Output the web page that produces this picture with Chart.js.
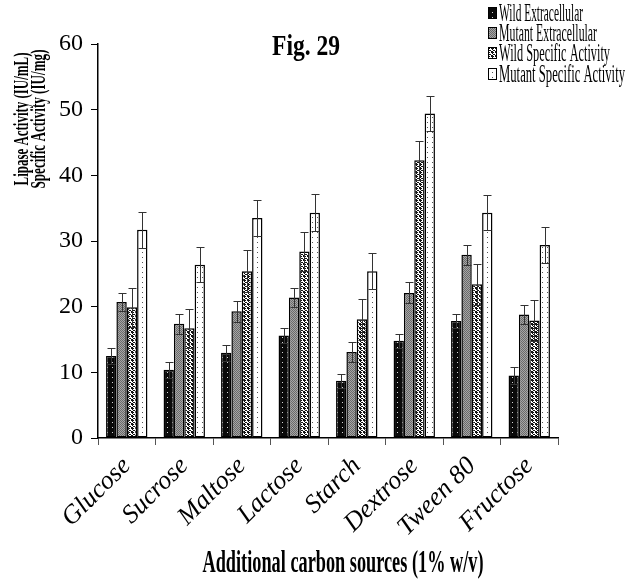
<!DOCTYPE html>
<html>
<head>
<meta charset="utf-8">
<script src="https://cdn.jsdelivr.net/npm/chart.js@4.4.0/dist/chart.umd.min.js"></script>
<style>
  html, body { margin: 0; padding: 0; background: #fff; }
  #wrap { width: 628px; height: 582px; position: relative; }
</style>
</head>
<body>
<div id="wrap"><canvas id="c" width="628" height="582"></canvas></div>
<script>
const categories = ['Glucose', 'Sucrose', 'Maltose', 'Lactose', 'Starch', 'Dextrose', 'Tween 80', 'Fructose'];
const seriesNames = ['Wild Extracellular', 'Mutant Extracellular', 'Wild Specific Activity', 'Mutant Specific Activity'];
const wildExtracellular = [12.5, 10.4, 13.0, 15.6, 8.7, 14.8, 17.8, 9.5];
const mutantExtracellular = [20.7, 17.4, 19.3, 21.4, 13.1, 22.1, 27.9, 18.8];
const wildSpecific = [19.9, 16.7, 25.4, 28.4, 18.1, 42.3, 23.4, 17.9];
const mutantSpecific = [31.7, 26.4, 33.5, 34.3, 25.4, 49.4, 34.3, 29.4];
const errWildExtracellular = [1.2, 1.2, 1.2, 1.2, 1.1, 1.1, 1.1, 1.3];
const errMutantExtracellular = [1.4, 1.5, 1.6, 1.5, 1.5, 1.6, 1.5, 1.5];
const errWildSpecific = [3.0, 3.0, 3.2, 3.0, 3.1, 3.0, 3.1, 3.1];
const errMutantSpecific = [2.7, 2.7, 2.7, 2.8, 2.7, 2.7, 2.7, 2.7];
const yTicks = [0, 10, 20, 30, 40, 50, 60];
const chartTitle = 'Fig. 29';
const xTitle = 'Additional carbon sources (1% w/v)';
const yTitleLines = ['Lipase Activity (IU/mL)', 'Specific Activity (IU/mg)'];

function makePattern(w, h, bg, fg, rows) {
  const c = document.createElement('canvas');
  c.width = w; c.height = h;
  const x = c.getContext('2d');
  x.fillStyle = bg; x.fillRect(0, 0, w, h);
  x.fillStyle = fg;
  rows.forEach((r, j) => { for (let i = 0; i < r.length; i++) if (r[i] === 'X') x.fillRect(i, j, 1, 1); });
  return x.createPattern(c, 'repeat');
}
const patWE = makePattern(5, 5, '#0a0a0a', '#d8d8d8', ['.....', '.....', '..X..', '.....', '.....']);
const patME = makePattern(2, 2, '#a6a6a6', '#6a6a6a', ['X.', '.X']);
const patWS = makePattern(4, 4, '#ffffff', '#111111', ['XX.X', 'X...', '.XX.', 'X..X']);
const patMS = makePattern(5, 5, '#ffffff', '#555555', ['.....', '.....', '..X..', '.....', '.....']);
const patterns = [patWE, patME, patWS, patMS];
const values = [wildExtracellular, mutantExtracellular, wildSpecific, mutantSpecific];
const errors = [errWildExtracellular, errMutantExtracellular, errWildSpecific, errMutantSpecific];

function fitText(ctx, text, x, y, size, weight, targetW, align) {
  ctx.save();
  ctx.font = weight + ' ' + size + 'px "Liberation Serif", serif';
  const w = ctx.measureText(text).width;
  const sx = targetW / w;
  ctx.translate(x, y);
  ctx.scale(sx, 1);
  ctx.textAlign = align || 'left';
  ctx.textBaseline = 'middle';
  ctx.fillStyle = '#000';
  ctx.fillText(text, 0, 0);
  ctx.restore();
}

const errorBarPlugin = {
  id: 'errorBars',
  afterDatasetsDraw(chart) {
    const ctx = chart.ctx;
    const yS = chart.scales.y;
    ctx.save();
    ctx.strokeStyle = '#333';
    ctx.lineWidth = 1;
    chart.data.datasets.forEach((ds, di) => {
      const meta = chart.getDatasetMeta(di);
      meta.data.forEach((bar, i) => {
        const v = ds.data[i], e = errors[di][i];
        const x = Math.round(bar.x) + 0.5;
        const yt = Math.round(yS.getPixelForValue(v + e)) + 0.5;
        const yb = Math.round(yS.getPixelForValue(v - e)) + 0.5;
        ctx.beginPath();
        ctx.moveTo(x, yt); ctx.lineTo(x, yb);
        ctx.moveTo(x - 4, yt); ctx.lineTo(x + 4, yt);
        ctx.moveTo(x - 4, yb); ctx.lineTo(x + 4, yb);
        ctx.stroke();
      });
    });
    ctx.restore();
  }
};

const textPlugin = {
  id: 'texts',
  afterDraw(chart) {
    const ctx = chart.ctx;
    fitText(ctx, chartTitle, 306, 47, 30, 'bold', 68, 'center');
    const legY = [13, 33, 53, 74];
    const legW = [84, 98, 111, 126];
    seriesNames.forEach((n, i) => {
      ctx.save();
      ctx.fillStyle = patterns[i];
      ctx.fillRect(488.5, legY[i] - 5.5, 8, 11);
      ctx.strokeStyle = '#000'; ctx.lineWidth = 1;
      ctx.strokeRect(488.5, legY[i] - 5.5, 8, 11);
      ctx.restore();
      fitText(ctx, n, 499, legY[i] + 1, 26, 'normal', legW[i], 'left');
    });
    fitText(ctx, xTitle, 343, 564, 32, 'bold', 281, 'center');
    const yPos = [22, 39];
    const yW = [133, 139];
    yTitleLines.forEach((t, i) => {
      ctx.save();
      ctx.translate(yPos[i], 119);
      ctx.rotate(-Math.PI / 2);
      fitText(ctx, t, 0, 0, 22, 'bold', yW[i], 'center');
      ctx.restore();
    });
  }
};

const chart = new Chart(document.getElementById('c'), {
  type: 'bar',
  data: {
    labels: categories,
    datasets: seriesNames.map((n, i) => ({
      label: n,
      data: values[i],
      backgroundColor: patterns[i],
      borderColor: '#000',
      borderWidth: 1.5,
      borderSkipped: false,
      barPercentage: 1.0,
      categoryPercentage: 0.72
    }))
  },
  options: {
    responsive: false,
    animation: false,
    devicePixelRatio: 1,
    layout: { padding: { left: 0, right: 70, top: 44, bottom: 0 } },
    plugins: { legend: { display: false }, tooltip: { enabled: false }, title: { display: false } },
    scales: {
      x: {
        grid: { display: true, drawOnChartArea: false, drawTicks: true, tickLength: 7, color: '#555', offset: true },
        border: { display: true, color: '#000', width: 1.5 },
        ticks: {
          color: '#000',
          font: { family: 'Liberation Serif', size: 26, style: 'italic' },
          minRotation: 45, maxRotation: 45, padding: 6
        },
        afterFit(s) { s.height = 144; }
      },
      y: {
        min: 0, max: 60,
        afterBuildTicks(s) { s.ticks = yTicks.map(v => ({ value: v })); },
        grid: { display: true, drawOnChartArea: false, drawTicks: true, tickLength: 7, color: '#000' },
        border: { display: true, color: '#000', width: 1.5 },
        ticks: {
          color: '#000',
          font: { family: 'Liberation Serif', size: 24 },
          padding: 8
        },
        afterFit(s) { s.width = 98; }
      }
    }
  },
  plugins: [errorBarPlugin, textPlugin]
});
</script>
</body>
</html>
